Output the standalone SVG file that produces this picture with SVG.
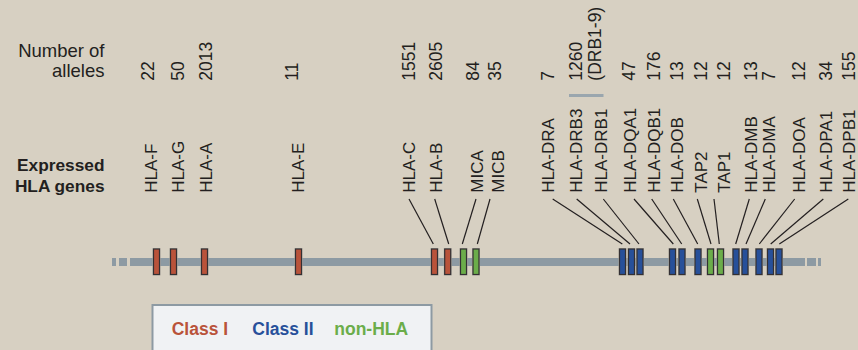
<svg xmlns="http://www.w3.org/2000/svg" width="858" height="350" viewBox="0 0 858 350">
  <style>
    .lbl { font-family: "Liberation Sans", Arial, sans-serif; font-size: 17px; fill: #231f20; }
    .num { font-family: "Liberation Sans", Arial, sans-serif; font-size: 17.5px; fill: #231f20; }
    .head { font-family: "Liberation Sans", Arial, sans-serif; font-size: 18.5px; fill: #231f20; text-anchor: end; }
    .headb { font-family: "Liberation Sans", Arial, sans-serif; font-size: 17.3px; font-weight: bold; fill: #231f20; text-anchor: end; }
    .leg { font-family: "Liberation Sans", Arial, sans-serif; font-size: 17.5px; font-weight: bold; }
    .halo { fill: #b3aea4; }
    .box { stroke: #333033; stroke-width: 1.2; }
    .c1 { fill: #b9533a; }
    .c2 { fill: #27509a; }
    .nh { fill: #6bad4a; }
    .conn line { stroke: #231f20; stroke-width: 1.2; }
  </style>
  <defs>
    <g id="gene">
      <rect class="halo" x="-1" y="248" width="8" height="27.5"/>
    </g>
  </defs>

  <rect width="858" height="350" fill="#d7d0c2"/>

  <!-- column headings -->
  <g id="heading-alleles">
    <text class="head" x="104.5" y="56.5">Number of</text>
    <text class="head" x="104.5" y="77.3">alleles</text>
  </g>
  <g id="heading-genes">
    <text class="headb" x="104.5" y="170.5">Expressed</text>
    <text class="headb" x="104.5" y="191.5">HLA genes</text>
  </g>

  <!-- allele counts -->
  <g id="allele-counts">
    <text class="num" transform="translate(154,80.7) rotate(-90)">22</text>
    <text class="num" transform="translate(184,80.7) rotate(-90)">50</text>
    <text class="num" transform="translate(212,80.7) rotate(-90)">2013</text>
    <text class="num" transform="translate(298.3,80.7) rotate(-90)">11</text>
    <text class="num" transform="translate(415,80.7) rotate(-90)">1551</text>
    <text class="num" transform="translate(441.7,80.7) rotate(-90)">2605</text>
    <text class="num" transform="translate(479.3,80.7) rotate(-90)">84</text>
    <text class="num" transform="translate(500.7,80.7) rotate(-90)">35</text>
    <text class="num" transform="translate(554,80.7) rotate(-90)">7</text>
    <text class="num" transform="translate(581.7,80.7) rotate(-90)">1260</text>
    <text class="num" transform="translate(600.7,80.7) rotate(-90)">(DRB1-9)</text>
    <text class="num" transform="translate(635,80.7) rotate(-90)">47</text>
    <text class="num" transform="translate(660,80.7) rotate(-90)">176</text>
    <text class="num" transform="translate(683.3,80.7) rotate(-90)">13</text>
    <text class="num" transform="translate(707.3,80.7) rotate(-90)">12</text>
    <text class="num" transform="translate(730,80.7) rotate(-90)">12</text>
    <text class="num" transform="translate(756.7,80.7) rotate(-90)">13</text>
    <text class="num" transform="translate(775,80.7) rotate(-90)">7</text>
    <text class="num" transform="translate(805,80.7) rotate(-90)">12</text>
    <text class="num" transform="translate(832.3,80.7) rotate(-90)">34</text>
    <text class="num" transform="translate(854.7,80.7) rotate(-90)">155</text>
    <line x1="569" y1="95.5" x2="603.5" y2="95.5" stroke="#9aa6ae" stroke-width="3"/>
  </g>

  <!-- chromosome -->
  <g id="chromosome" fill="#8d9aa3">
    <rect x="112" y="258" width="4" height="8"/>
    <rect x="119" y="258" width="8" height="8"/>
    <rect x="130" y="258" width="675" height="8"/>
    <rect x="807" y="258" width="9" height="8"/>
    <rect x="818" y="258" width="3" height="8"/>
  </g>

  <!-- connectors from labels to genes -->
  <g id="connectors" class="conn">
    <line x1="409" y1="199" x2="433.3" y2="244"/>
    <line x1="434.7" y1="199" x2="448.7" y2="244"/>
    <line x1="476" y1="199" x2="462.3" y2="244"/>
    <line x1="490" y1="199" x2="477.3" y2="244"/>
    <line x1="552.7" y1="199" x2="622.3" y2="244"/>
    <line x1="576.7" y1="199" x2="630" y2="244"/>
    <line x1="603.3" y1="199" x2="639" y2="244"/>
    <line x1="634" y1="199" x2="673.3" y2="244"/>
    <line x1="651.7" y1="199" x2="681.7" y2="244"/>
    <line x1="673.3" y1="199" x2="697.7" y2="244"/>
    <line x1="697.3" y1="199" x2="711" y2="244"/>
    <line x1="714" y1="199" x2="719.3" y2="244"/>
    <line x1="749.3" y1="199" x2="735.7" y2="244"/>
    <line x1="765.3" y1="199" x2="746" y2="244"/>
    <line x1="794.7" y1="199" x2="759.3" y2="244"/>
    <line x1="823.3" y1="199" x2="770.7" y2="244"/>
    <line x1="848.3" y1="199" x2="779.3" y2="244"/>
  </g>

  <!-- genes: label + box -->
  <g id="HLA-F"><text class="lbl" transform="translate(157.3,192.7) rotate(-90)">HLA-F</text><use href="#gene" x="153.5"/><rect class="box c1" x="153.5" y="249" width="6" height="25.5"/></g>
  <g id="HLA-G"><text class="lbl" transform="translate(184,192.7) rotate(-90)">HLA-G</text><use href="#gene" x="170.5"/><rect class="box c1" x="170.5" y="249" width="6" height="25.5"/></g>
  <g id="HLA-A"><text class="lbl" transform="translate(212,192.7) rotate(-90)">HLA-A</text><use href="#gene" x="201.5"/><rect class="box c1" x="201.5" y="249" width="6" height="25.5"/></g>
  <g id="HLA-E"><text class="lbl" transform="translate(304.3,192.7) rotate(-90)">HLA-E</text><use href="#gene" x="295.5"/><rect class="box c1" x="295.5" y="249" width="6" height="25.5"/></g>
  <g id="HLA-C"><text class="lbl" transform="translate(415,192.7) rotate(-90)">HLA-C</text><use href="#gene" x="431.5"/><rect class="box c1" x="431.5" y="249" width="6" height="25.5"/></g>
  <g id="HLA-B"><text class="lbl" transform="translate(441.7,192.7) rotate(-90)">HLA-B</text><use href="#gene" x="444.7"/><rect class="box c1" x="444.7" y="249" width="6" height="25.5"/></g>
  <g id="MICA"><text class="lbl" transform="translate(482.7,192.7) rotate(-90)">MICA</text><use href="#gene" x="460.5"/><rect class="box nh" x="460.5" y="249" width="6" height="25.5"/></g>
  <g id="MICB"><text class="lbl" transform="translate(504,192.7) rotate(-90)">MICB</text><use href="#gene" x="473"/><rect class="box nh" x="473" y="249" width="6" height="25.5"/></g>
  <g id="HLA-DRA"><text class="lbl" transform="translate(554.3,192.7) rotate(-90)">HLA-DRA</text><use href="#gene" x="619.5"/><rect class="box c2" x="619.5" y="249" width="6" height="25.5"/></g>
  <g id="HLA-DRB3"><text class="lbl" transform="translate(581.7,192.7) rotate(-90)">HLA-DRB3</text><use href="#gene" x="628.5"/><rect class="box c2" x="628.5" y="249" width="6" height="25.5"/></g>
  <g id="HLA-DRB1"><text class="lbl" transform="translate(607.3,192.7) rotate(-90)">HLA-DRB1</text><use href="#gene" x="637"/><rect class="box c2" x="637" y="249" width="6" height="25.5"/></g>
  <g id="HLA-DQA1"><text class="lbl" transform="translate(635.7,192.7) rotate(-90)">HLA-DQA1</text><use href="#gene" x="669.5"/><rect class="box c2" x="669.5" y="249" width="6" height="25.5"/></g>
  <g id="HLA-DQB1"><text class="lbl" transform="translate(660,192.7) rotate(-90)">HLA-DQB1</text><use href="#gene" x="679"/><rect class="box c2" x="679" y="249" width="6" height="25.5"/></g>
  <g id="HLA-DOB"><text class="lbl" transform="translate(683.3,192.7) rotate(-90)">HLA-DOB</text><use href="#gene" x="695"/><rect class="box c2" x="695" y="249" width="6" height="25.5"/></g>
  <g id="TAP2"><text class="lbl" transform="translate(706.7,192.7) rotate(-90)">TAP2</text><use href="#gene" x="707.5"/><rect class="box nh" x="707.5" y="249" width="6" height="25.5"/></g>
  <g id="TAP1"><text class="lbl" transform="translate(730,192.7) rotate(-90)">TAP1</text><use href="#gene" x="717.5"/><rect class="box nh" x="717.5" y="249" width="6" height="25.5"/></g>
  <g id="HLA-DMB"><text class="lbl" transform="translate(757.3,192.7) rotate(-90)">HLA-DMB</text><use href="#gene" x="733"/><rect class="box c2" x="733" y="249" width="6" height="25.5"/></g>
  <g id="HLA-DMA"><text class="lbl" transform="translate(775,192.7) rotate(-90)">HLA-DMA</text><use href="#gene" x="742"/><rect class="box c2" x="742" y="249" width="6" height="25.5"/></g>
  <g id="HLA-DOA"><text class="lbl" transform="translate(805,192.7) rotate(-90)">HLA-DOA</text><use href="#gene" x="756"/><rect class="box c2" x="756" y="249" width="6" height="25.5"/></g>
  <g id="HLA-DPA1"><text class="lbl" transform="translate(832.3,192.7) rotate(-90)">HLA-DPA1</text><use href="#gene" x="767.5"/><rect class="box c2" x="767.5" y="249" width="6" height="25.5"/></g>
  <g id="HLA-DPB1"><text class="lbl" transform="translate(854.7,192.7) rotate(-90)">HLA-DPB1</text><use href="#gene" x="776"/><rect class="box c2" x="776" y="249" width="6" height="25.5"/></g>

  <!-- legend -->
  <g id="legend">
    <rect x="152.5" y="305" width="279" height="50" fill="#f0f2f4" stroke="#8d9aa3" stroke-width="2"/>
    <text class="leg" x="171.7" y="335" fill="#b9533a">Class I</text>
    <text class="leg" x="252.3" y="335" fill="#27509a">Class II</text>
    <text class="leg" x="334.3" y="335" fill="#6bad4a">non-HLA</text>
  </g>
</svg>
